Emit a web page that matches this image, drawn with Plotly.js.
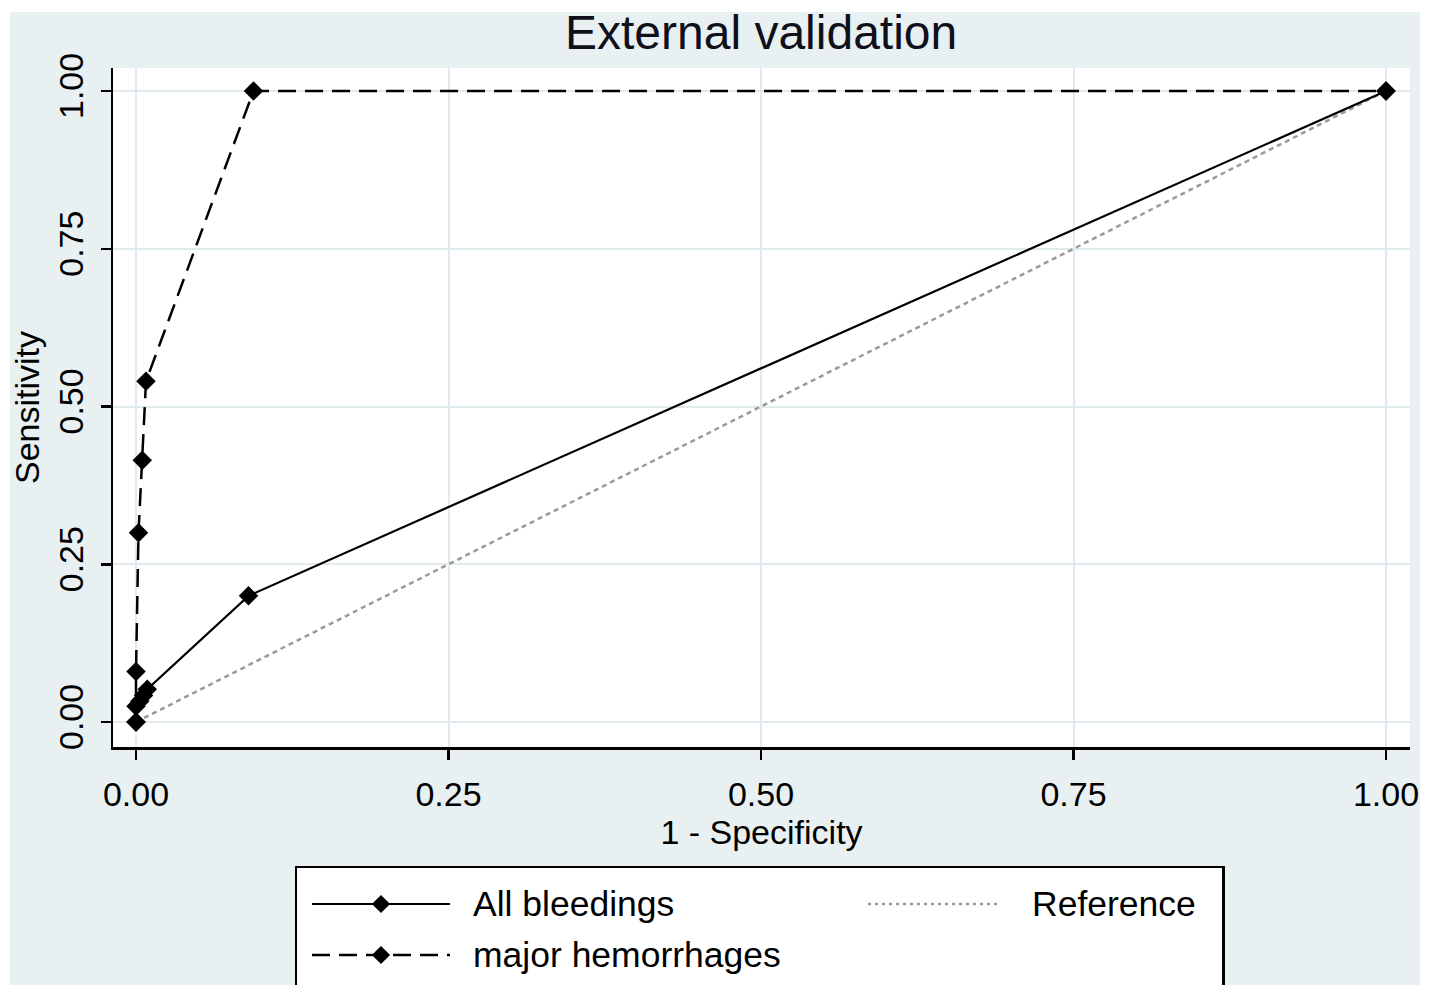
<!DOCTYPE html>
<html>
<head>
<meta charset="utf-8">
<script src="https://cdn.plot.ly/plotly-3.0.1.min.js"></script>
<style>html,body{margin:0;padding:0;background:#fff;}#chart{width:1434px;height:985px;}</style>
</head>
<body>
<div id="chart"></div>
<script>
// ---- data ----
const allX = [0, 0, 0.003, 0.006, 0.009, 0.09, 1];
const allY = [0, 0.025, 0.033, 0.042, 0.052, 0.2, 1];
const majorX = [0, 0, 0.002, 0.005, 0.008, 0.094, 1];
const majorY = [0, 0.08, 0.30, 0.415, 0.54, 1, 1];
const refX = [0, 1];
const refY = [0, 1];
const tickVals = [0, 0.25, 0.5, 0.75, 1];
const tickText = ["0.00", "0.25", "0.50", "0.75", "1.00"];
const seriesNames = ["All bleedings", "major hemorrhages", "Reference"];
const chartTitle = "External validation";
const xTitle = "1 - Specificity";
const yTitle = "Sensitivity";

// ---- layout helpers (pixel -> paper) ----
const W = 1434, H = 985;
const px = v => v / W;
const py = v => 1 - v / H;
const FONT = "Liberation Sans, Arial, sans-serif";
const GRID = "#e1eaee";
const BG = "#e9f0f2";

const traces = [
  {x: refX, y: refY, mode: "lines", line: {color: "#9a9a9a", width: 2.5, dash: "5px,4px"}, name: seriesNames[2], xaxis: "x", yaxis: "y", hoverinfo: "skip"},
  {x: allX, y: allY, mode: "lines+markers", line: {color: "#000", width: 2.2}, marker: {symbol: "diamond", size: 15, color: "#000"}, name: seriesNames[0], xaxis: "x", yaxis: "y"},
  {x: majorX, y: majorY, mode: "lines+markers", line: {color: "#000", width: 2.5, dash: "18px,9px"}, marker: {symbol: "diamond", size: 15, color: "#000"}, name: seriesNames[1], xaxis: "x", yaxis: "y"},
  // legend keys (drawn in the legend box's local pixel frame)
  {x: [15, 153], y: [36, 36], mode: "lines", line: {color: "#000", width: 2.2}, xaxis: "x2", yaxis: "y2", hoverinfo: "skip"},
  {x: [15, 153], y: [87, 87], mode: "lines", line: {color: "#000", width: 2.5, dash: "18px,9px"}, xaxis: "x2", yaxis: "y2", hoverinfo: "skip"},
  {x: [84, 84], y: [36, 87], mode: "markers", marker: {symbol: "diamond", size: 14, color: "#000"}, xaxis: "x2", yaxis: "y2", hoverinfo: "skip"},
  {x: [571, 703], y: [36, 36], mode: "lines", line: {color: "#9a9a9a", width: 2.5, dash: "3px,4px"}, xaxis: "x2", yaxis: "y2", hoverinfo: "skip"}
];

const layout = {
  width: W, height: H,
  margin: {l: 0, r: 0, t: 0, b: 0},
  paper_bgcolor: "#ffffff",
  plot_bgcolor: "rgba(0,0,0,0)",
  showlegend: false,
  font: {family: FONT, color: "#000"},
  xaxis: {
    domain: [px(113), px(1410)],
    range: [-0.0184, 1.0192],
    tickvals: tickVals, ticktext: tickText,
    showgrid: true, gridcolor: GRID, gridwidth: 2,
    zeroline: false,
    showline: true, linecolor: "#000", linewidth: 2.5, mirror: false,
    ticks: "outside", ticklen: 10, tickwidth: 2.5, tickcolor: "#000",
    tickfont: {size: 34, family: FONT, color: "#000"},
    ticklabelstandoff: 6,
    title: {text: xTitle, font: {size: 34, family: FONT, color: "#000"}, standoff: 6},
    automargin: false
  },
  yaxis: {
    domain: [py(747), py(68)],
    range: [-0.0396, 1.0365],
    tickvals: tickVals, ticktext: tickText,
    tickangle: -90,
    showgrid: true, gridcolor: GRID, gridwidth: 2,
    zeroline: false,
    showline: true, linecolor: "#000", linewidth: 2.5, mirror: false,
    ticks: "outside", ticklen: 10, tickwidth: 2.5, tickcolor: "#000",
    tickfont: {size: 34, family: FONT, color: "#000"},
    ticklabelstandoff: 4,
    title: {text: yTitle, font: {size: 34, family: FONT, color: "#000"}, standoff: 2},
    automargin: false
  },
  xaxis2: {
    domain: [px(297), px(1222)], anchor: "y2",
    range: [0, 925], fixedrange: true,
    showgrid: false, zeroline: false, showticklabels: false, ticks: "",
    showline: true, linecolor: "#000", linewidth: 2.5, side: "top", mirror: false
  },
  yaxis2: {
    domain: [0, py(868)], anchor: "x2",
    range: [117, 0], fixedrange: true,
    showgrid: false, zeroline: false, showticklabels: false, ticks: "",
    showline: true, linecolor: "#000", linewidth: 2.5, mirror: true
  },
  shapes: [
    {type: "rect", xref: "paper", yref: "paper", x0: px(10), x1: px(1420), y0: -0.05, y1: py(12), fillcolor: BG, line: {width: 0}, layer: "below"},
    {type: "rect", xref: "paper", yref: "paper", x0: px(113), x1: px(1410), y0: py(747), y1: py(68), fillcolor: "#ffffff", line: {width: 0}, layer: "below"},
    {type: "rect", xref: "paper", yref: "paper", x0: px(297), x1: px(1222), y0: -0.05, y1: py(868), fillcolor: "#ffffff", line: {width: 0}, layer: "below"}
  ],
  annotations: [
    {text: chartTitle, xref: "paper", yref: "paper", x: px(761), y: py(33), xanchor: "center", yanchor: "middle", showarrow: false, font: {size: 48, family: FONT, color: "#10101a"}},
    {text: seriesNames[0], xref: "x2", yref: "y2", x: 174, y: 36, xanchor: "left", yanchor: "middle", showarrow: false, font: {size: 35.5, family: FONT, color: "#000"}},
    {text: seriesNames[1], xref: "x2", yref: "y2", x: 174, y: 87, xanchor: "left", yanchor: "middle", showarrow: false, font: {size: 35.5, family: FONT, color: "#000"}},
    {text: seriesNames[2], xref: "x2", yref: "y2", x: 733, y: 36, xanchor: "left", yanchor: "middle", showarrow: false, font: {size: 35.5, family: FONT, color: "#000"}}
  ]
};

Plotly.newPlot("chart", traces, layout, {displayModeBar: false, staticPlot: true});
</script>
</body>
</html>
